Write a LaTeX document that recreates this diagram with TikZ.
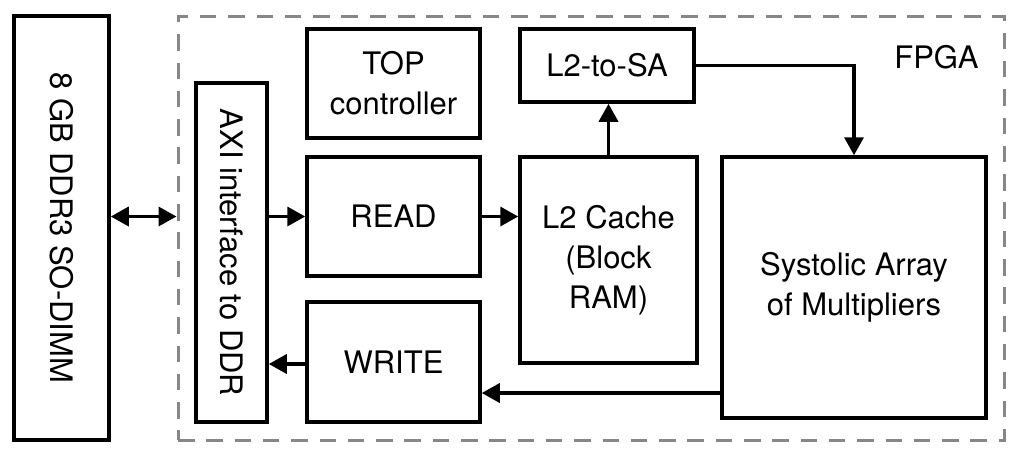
\documentclass[tikz,border=0pt]{standalone}
\usepackage{fontspec}
\setmainfont{TeX Gyre Heros}
\usetikzlibrary{arrows.meta}
\tikzset{
  box/.style={draw=black, line width=3.5pt, inner sep=0pt, align=center,
    font=\fontsize{31}{40}\selectfont},
  frame/.style={draw=black!47, line width=3pt, dash pattern=on 16.5pt off 11.8pt, inner sep=0pt},
  conn/.style={line width=3.5pt, -{Triangle[length=18pt,width=19pt]}},
  bconn/.style={line width=3.5pt, {Triangle[length=18pt,width=19pt]}-{Triangle[length=18pt,width=19pt]}},
  lbl/.style={font=\fontsize{31}{40}\selectfont, inner sep=0pt}
}
\begin{document}
\begin{tikzpicture}[x=1pt, y=-1pt]
\useasboundingbox (0,0) rectangle (1020,456);
\fill[white] (0,0) rectangle (1020,456);
\node[frame, minimum width=826pt, minimum height=424pt] (fpga) at (591,228) {};
\node[lbl, anchor=base] (fpgalbl) at (936.5,68) {FPGA};
\node[box, minimum width=95pt, minimum height=424pt,
  label={[lbl, rotate=-90]center:8 GB DDR3 SO-DIMM}] (ddr) at (61.5,228) {};
\node[box, minimum width=71pt, minimum height=339pt,
  label={[lbl, rotate=-90]center:AXI interface to DDR}] (axi) at (231.5,252.5) {};
\node[box, minimum width=173pt, minimum height=109pt] (top) at (393.5,83.5) {TOP\\controller};
\node[box, minimum width=173pt, minimum height=119pt] (read) at (393.5,216.5) {READ};
\node[box, minimum width=173pt, minimum height=120pt] (write) at (393.5,362) {WRITE};
\node[box, minimum width=174pt, minimum height=73pt] (l2sa) at (607,65.5) {L2-to-SA};
\node[box, minimum width=177pt, minimum height=206pt] (l2) at (608.5,260) {L2 Cache\\(Block\\RAM)};
\node[box, minimum width=264pt, minimum height=261pt] (sa) at (854,287.5) {Systolic Array\\of Multipliers};
\coordinate (wrlvl) at (0,393);
\draw[bconn] (ddr.east |- read.west) -- (fpga.west |- read.west);
\draw[conn] (axi.east |- read.west) -- (read.west);
\draw[conn] (read.east) -- (read.east -| l2.west);
\draw[conn] (l2.north) -- (l2.north |- l2sa.south);
\draw[conn] (l2sa.east) -| (sa.north);
\draw[conn] (sa.west |- wrlvl) -- (write.east |- wrlvl);
\draw[conn] ([yshift=-2pt]write.west) -- ([yshift=-2pt]write.west -| axi.east);
\end{tikzpicture}
\end{document}
